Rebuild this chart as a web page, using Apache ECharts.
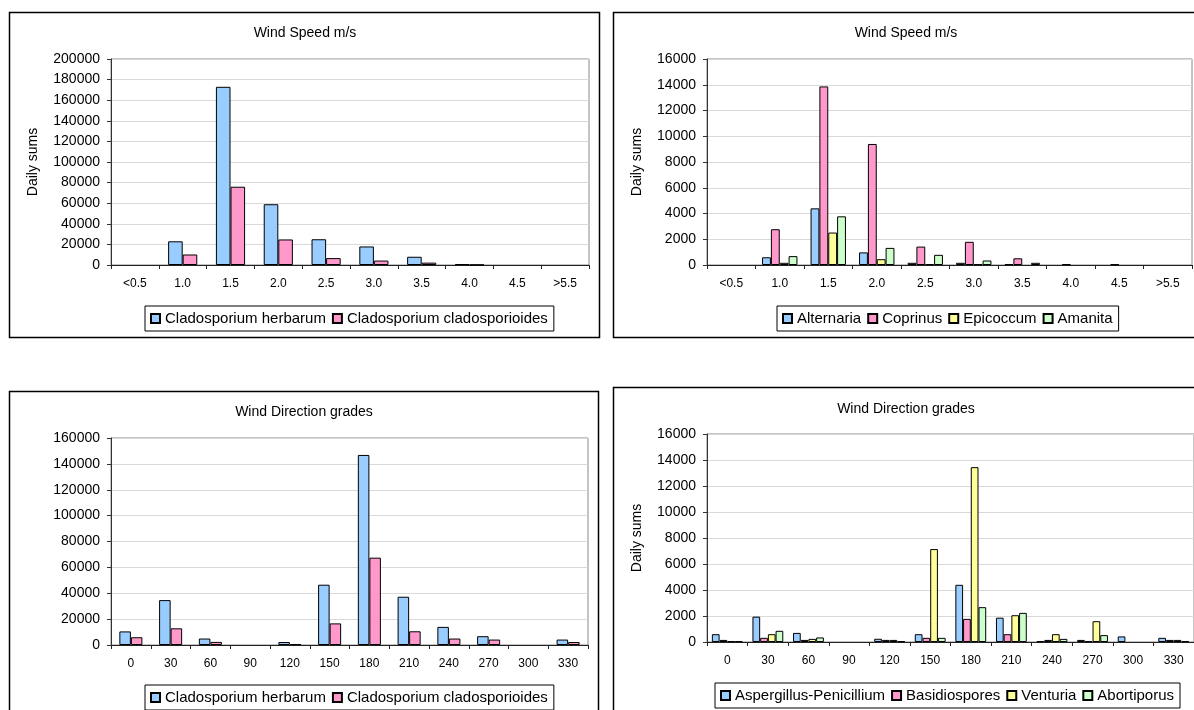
<!DOCTYPE html>
<html><head><meta charset="utf-8">
<script src="https://cdn.jsdelivr.net/npm/echarts@6/dist/echarts.min.js"></script>
<style>html,body{margin:0;padding:0;background:#fff}#c{width:1194px;height:710px}</style>
</head><body><div id="c"></div>
<script>
// ---- data ----
const speedCats = ['<0.5','1.0','1.5','2.0','2.5','3.0','3.5','4.0','4.5','>5.5'];
const dirCats = ['0','30','60','90','120','150','180','210','240','270','300','330'];
const speedTicksLeft = {min: 0, max: 200000, interval: 20000};
const speedTicksRight = {min: 0, max: 16000, interval: 2000};
const dirTicksLeft = {min: 0, max: 160000, interval: 20000};
const dirTicksRight = {min: 0, max: 16000, interval: 2000};

const herbarumSpeed = [0, 23000, 173000, 59000, 25000, 18000, 8000, 800, 0, 0];
const cladosporioidesSpeed = [0, 10200, 76000, 24800, 6700, 4300, 2300, 200, 0, 0];

const alternariaSpeed = [0, 600, 4400, 980, 170, 170, 60, 0, 0, 0];
const coprinusSpeed = [0, 2780, 13870, 9400, 1430, 1800, 520, 60, 50, 0];
const epicoccumSpeed = [0, 170, 2520, 450, 60, 60, 0, 0, 0, 0];
const amanitaSpeed = [0, 690, 3780, 1330, 790, 350, 170, 0, 0, 0];

const herbarumDir = [10500, 34700, 5000, 0, 2300, 46600, 146900, 37300, 14000, 6800, 0, 4200];
const cladosporioidesDir = [6000, 12900, 2400, 0, 700, 16700, 67500, 10600, 5000, 4200, 0, 2300];

const aspergillusDir = [600, 1950, 700, 0, 250, 600, 4400, 1870, 60, 160, 430, 320];
const basidiosporesDir = [160, 320, 160, 0, 160, 320, 1780, 600, 160, 60, 0, 160];
const venturiaDir = [60, 600, 240, 0, 160, 7150, 13450, 2060, 600, 1600, 0, 160];
const abortiporusDir = [60, 860, 350, 0, 60, 320, 2680, 2240, 240, 530, 0, 60];

// ---- styling ----
const FONT = '"Liberation Sans", Arial, sans-serif';
const BLUE = '#99ccff', PINK = '#ff99cc', YELLOW = '#ffff99', GREEN = '#ccffcc';

const grids = [
  {left: 111, top: 59, width: 478, height: 206},
  {left: 707, top: 59, width: 485, height: 206},
  {left: 111, top: 438, width: 477, height: 207},
  {left: 707, top: 434, width: 489, height: 208}
];
const catGaps = ['39%', '27%', '42%', '24%'];

function xAxis(idx, cats) {
  return {
    type: 'category', gridIndex: idx, data: cats,
    axisLine: {lineStyle: {color: '#222', width: 1}},
    axisTick: {show: true, length: 4, lineStyle: {color: '#222'}},
    axisLabel: {color: '#000', fontSize: 12, fontFamily: FONT, margin: 13, interval: 0},
    splitLine: {show: false}
  };
}
function yAxis(idx, t, name, gap) {
  return {
    type: 'value', gridIndex: idx, min: t.min, max: t.max, interval: t.interval,
    name: name, nameLocation: 'middle', nameGap: gap,
    nameTextStyle: {color: '#000', fontSize: 14, fontFamily: FONT},
    axisLine: {show: true, lineStyle: {color: '#333', width: 1}},
    axisTick: {show: true, length: 4, lineStyle: {color: '#333'}},
    axisLabel: {color: '#000', fontSize: 14, fontFamily: FONT, margin: 11,
                formatter: v => String(v)},
    splitLine: {show: true, lineStyle: {color: '#d9d9d9', width: 1}}
  };
}
function bar(name, data, idx, color) {
  return {
    type: 'bar', name: name, data: data.map(v => (v === 0 ? null : v)),
    xAxisIndex: idx, yAxisIndex: idx,
    barGap: '0%', barCategoryGap: catGaps[idx],
    itemStyle: {color: color, borderColor: '#000', borderWidth: 1},
    emphasis: {disabled: true}, animation: false
  };
}
function legend(names, left, top) {
  return {
    data: names, left: left, top: top, orient: 'horizontal',
    icon: 'rect', itemWidth: 9, itemHeight: 9, itemGap: 6,
    borderColor: '#000', borderWidth: 1, padding: [5, 6, 5, 5],
    textStyle: {color: '#000', fontSize: 15, fontFamily: FONT},
    selectedMode: false
  };
}
function frame(x, y, w, h) {
  return {type: 'rect', shape: {x: x, y: y, width: w, height: h}, silent: true,
          style: {fill: 'none', stroke: '#000', lineWidth: 1.5}, z: 100};
}
function titleText(text, x, y) {
  return {type: 'text', x: x, y: y, silent: true,
          style: {text: text, align: 'center', verticalAlign: 'middle',
                  font: '14px ' + FONT, fill: '#000'}};
}

const option = {
  animation: false,
  backgroundColor: '#fff',
  grid: grids.map(g => Object.assign({show: true, borderColor: '#888', borderWidth: 1, backgroundColor: 'transparent'}, g)),
  xAxis: [xAxis(0, speedCats), xAxis(1, speedCats), xAxis(2, dirCats), xAxis(3, dirCats)],
  yAxis: [
    yAxis(0, speedTicksLeft, 'Daily sums', 71),
    yAxis(1, speedTicksRight, 'Daily sums', 63),
    yAxis(2, dirTicksLeft, '', 70),
    yAxis(3, dirTicksRight, 'Daily sums', 63)
  ],
  legend: [
    legend(['Cladosporium herbarum', 'Cladosporium cladosporioides'], 145, 306),
    legend(['Alternaria', 'Coprinus', 'Epicoccum', 'Amanita'], 777, 306),
    legend(['Cladosporium herbarum', 'Cladosporium cladosporioides'], 145, 685),
    legend(['Aspergillus-Penicillium', 'Basidiospores', 'Venturia', 'Abortiporus'], 715, 683)
  ],
  graphic: [
    frame(9.5, 12.5, 590, 325),
    frame(613.5, 12.5, 586, 325),
    frame(9.5, 391.5, 589, 330),
    frame(613.5, 387.5, 586, 335),
    titleText('Wind Speed m/s', 305, 33),
    titleText('Wind Speed m/s', 906, 33),
    titleText('Wind Direction grades', 304, 412),
    titleText('Wind Direction grades', 906, 409)
  ],
  series: [
    bar('Cladosporium herbarum', herbarumSpeed, 0, BLUE),
    bar('Cladosporium cladosporioides', cladosporioidesSpeed, 0, PINK),
    bar('Alternaria', alternariaSpeed, 1, BLUE),
    bar('Coprinus', coprinusSpeed, 1, PINK),
    bar('Epicoccum', epicoccumSpeed, 1, YELLOW),
    bar('Amanita', amanitaSpeed, 1, GREEN),
    bar('Cladosporium herbarum', herbarumDir, 2, BLUE),
    bar('Cladosporium cladosporioides', cladosporioidesDir, 2, PINK),
    bar('Aspergillus-Penicillium', aspergillusDir, 3, BLUE),
    bar('Basidiospores', basidiosporesDir, 3, PINK),
    bar('Venturia', venturiaDir, 3, YELLOW),
    bar('Abortiporus', abortiporusDir, 3, GREEN)
  ]
};
const chart = echarts.init(document.getElementById('c'), null, {renderer: 'canvas'});
chart.setOption(option);
</script>
</body></html>
